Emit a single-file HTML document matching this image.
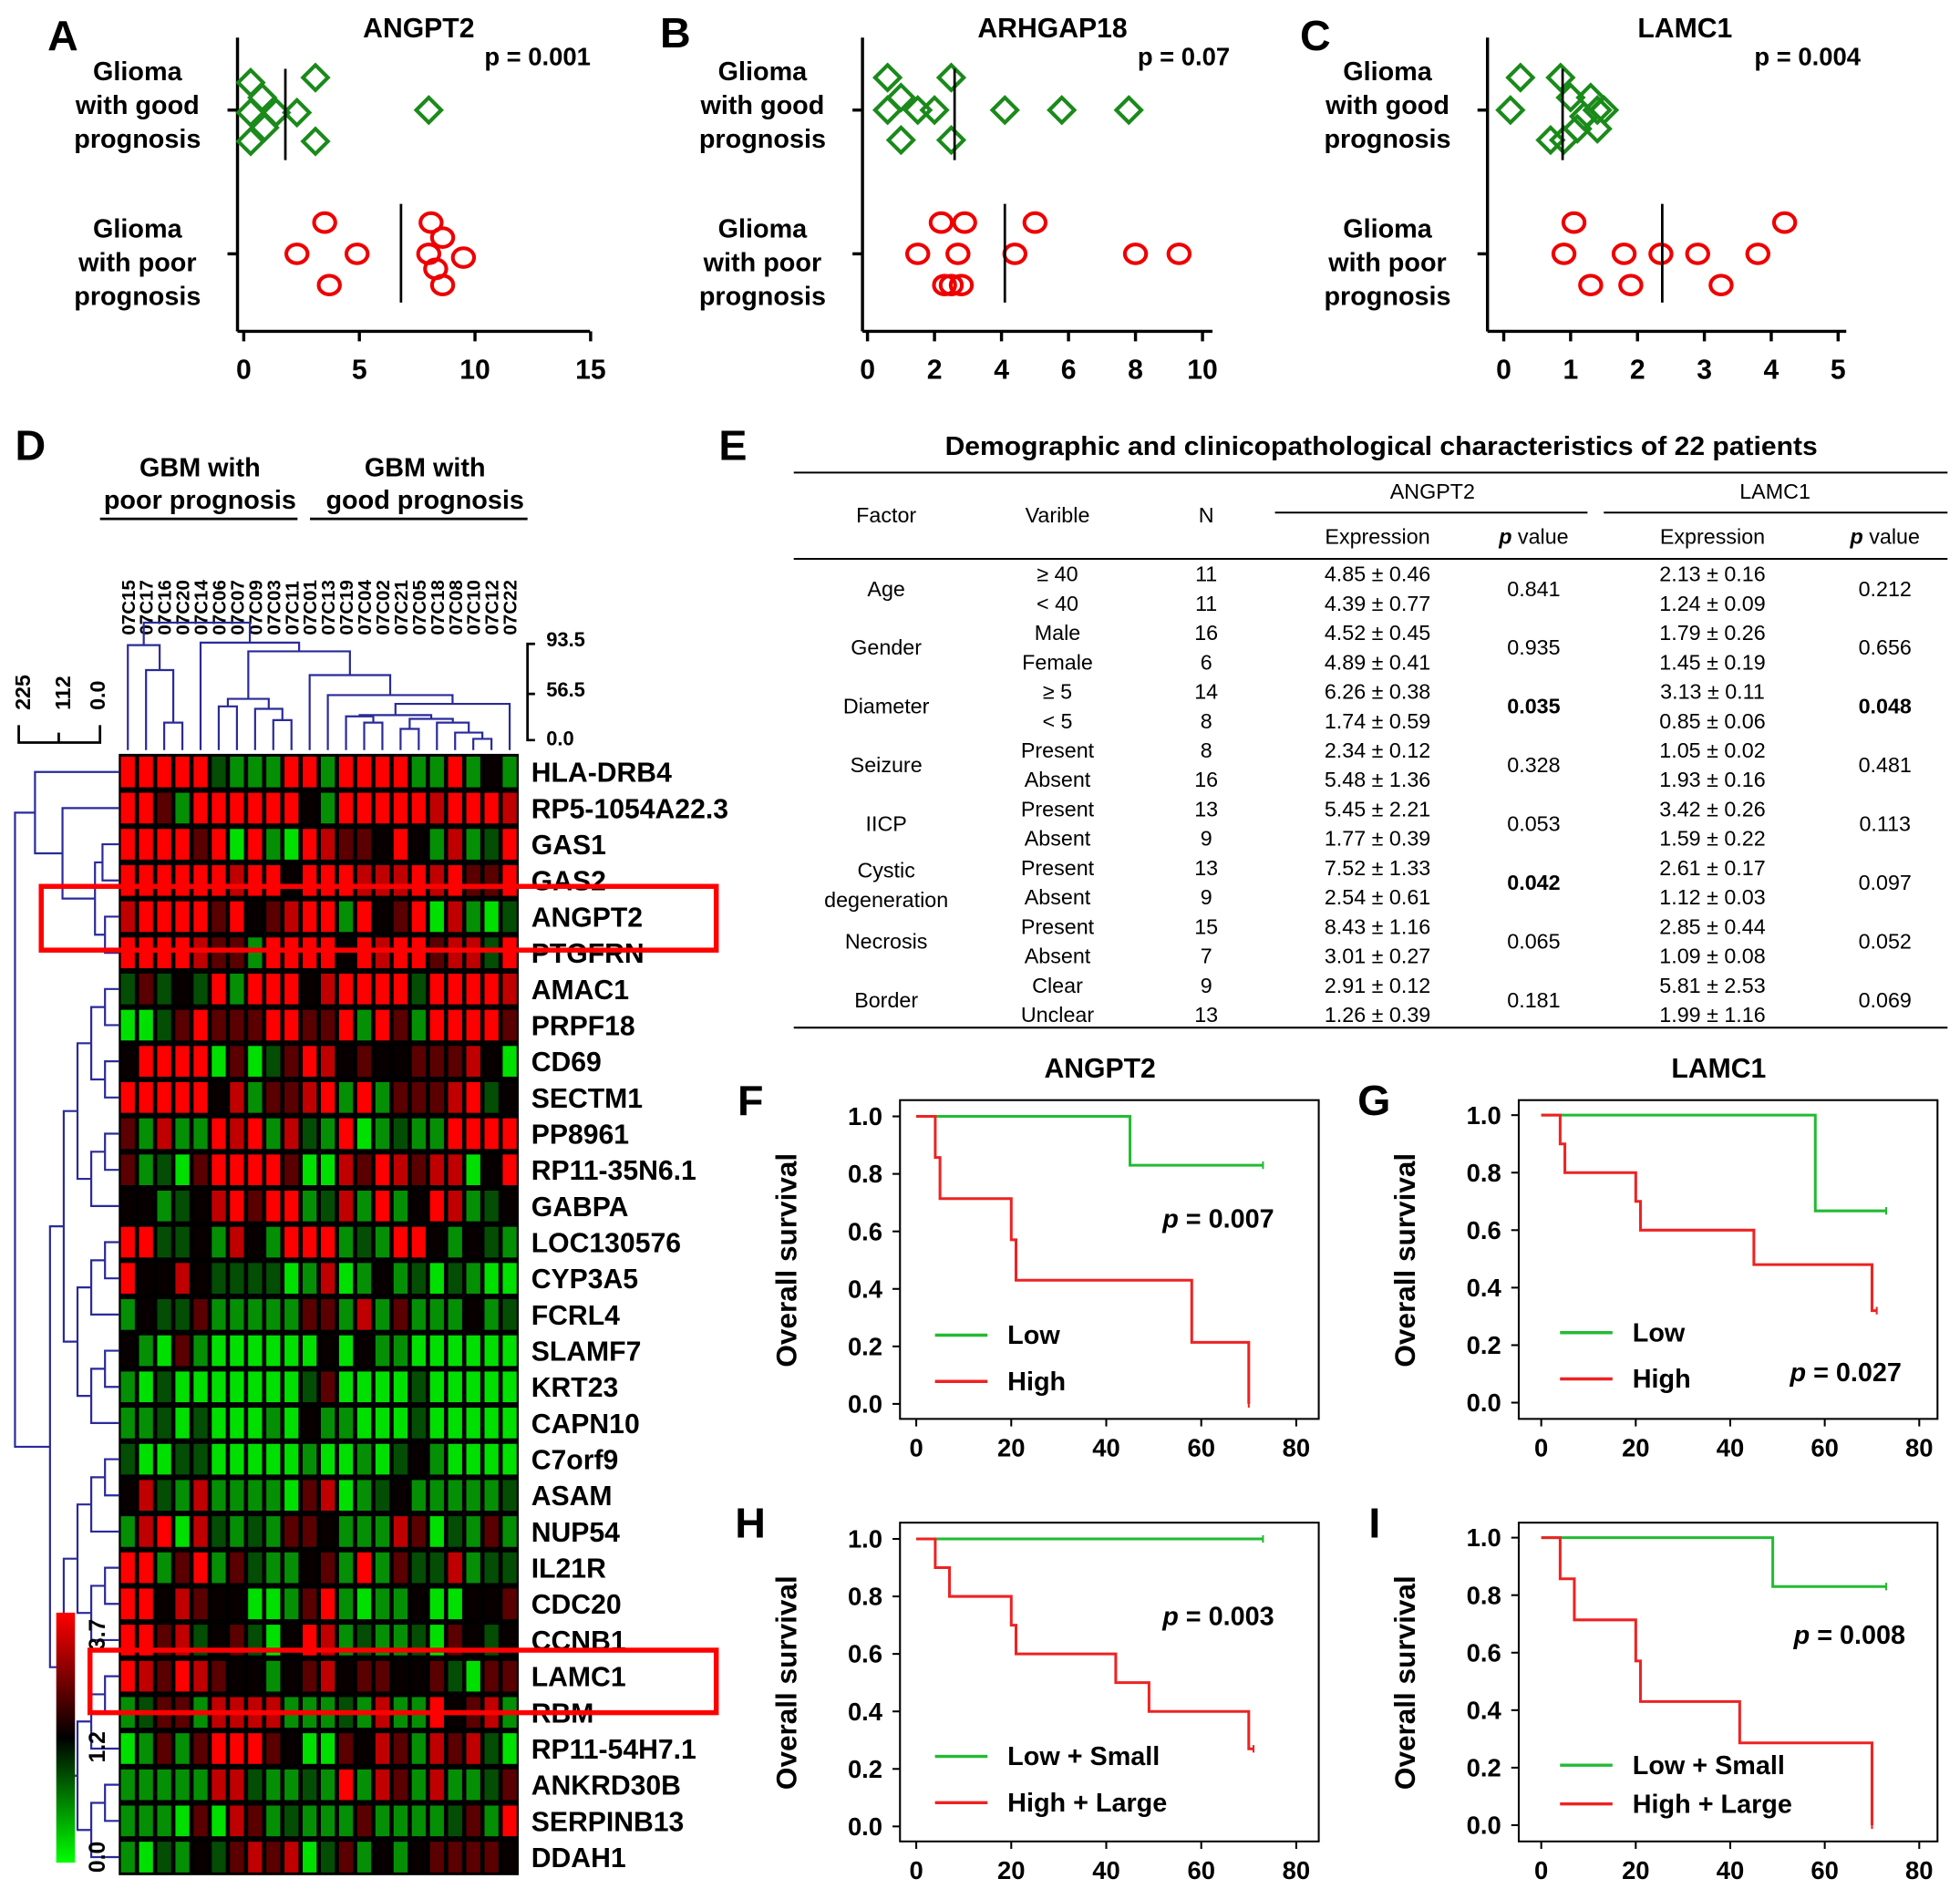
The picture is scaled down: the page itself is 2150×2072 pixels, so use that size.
<!DOCTYPE html>
<html><head><meta charset="utf-8"><style>
html,body{margin:0;padding:0;background:#fff}
svg{display:block}
text{font-family:"Liberation Sans",Arial,sans-serif}
.b{font-weight:bold}
.t{font-family:"Liberation Sans Narrow","Liberation Sans",sans-serif;font-size:17px}
</style></head><body>
<svg id="fig" width="2150" height="2072" viewBox="0 0 1568 1511" xmlns="http://www.w3.org/2000/svg">
<g id="root"></g>
</svg>
<script>
// ---------- Dot plot data ----------
const dotTitles=["ANGPT2","ARHGAP18","LAMC1"];
const dotP=["p = 0.001","p = 0.07","p = 0.004"];
const goodA=[3.1,0.3,0.8,0.3,1.4,2.3,8.0,0.9,0.3,3.1];
const goodAoff=[-26,-22,-10,2,2,2,0,14,25,25];
const poorA=[3.5,2.3,4.9,3.7,8.1,8.6,8.0,9.5,8.6,8.3];
const poorAoff=[-25,0,0,25,-25,-13,0,3,25,12];
const meanA=[1.8,6.8];
const goodB=[0.6,2.5,0.6,1.0,1.5,2.0,4.1,5.8,7.8,1.0,2.5];
const goodBoff=[-26,-26,0,-10,0,0,0,0,0,24,24];
const poorB=[2.2,2.9,5.0,1.5,2.7,4.4,8.0,9.3,2.5,2.8,2.3];
const poorBoff=[-25,-25,-25,0,0,0,0,0,25,25,25];
const meanB=[2.6,4.1];
const goodC=[0.25,0.85,0.1,1.0,1.3,1.4,1.2,1.5,1.1,0.9,1.4,0.7];
const goodCoff=[-26,-26,0,-10,-10,0,5,0,15,24,15,24];
const poorC=[1.05,4.2,0.9,1.8,2.35,2.9,3.8,1.3,1.9,3.25];
const poorCoff=[-25,-25,0,0,0,0,0,25,25,25];
const meanC=[0.88,2.37];
// ---------- Heatmap data ----------
const cols=["07C15","07C17","07C16","07C20","07C14","07C06","07C07","07C09","07C03","07C11","07C01","07C13","07C19","07C04","07C02","07C21","07C05","07C18","07C08","07C10","07C12","07C22"];
const genes=["HLA-DRB4","RP5-1054A22.3","GAS1","GAS2","ANGPT2","PTGFRN","AMAC1","PRPF18","CD69","SECTM1","PP8961","RP11-35N6.1","GABPA","LOC130576","CYP3A5","FCRL4","SLAMF7","KRT23","CAPN10","C7orf9","ASAM","NUP54","IL21R","CDC20","CCNB1","LAMC1","RBM","RP11-54H7.1","ANKRD30B","SERPINB13","DDAH1"];
const heat=["RRRRRgGGGRRGRRRRGGRGkG","RRdGRRRRRRkGRRRRRrRRRr","RRRRdRLRGLRrddkRkGrGgR","RRRRRRrRRkRRRrrrRrRddR","rRRRRdRkdrRRGRkdRLrGLg","RRRRrddGRRRRkRrRRdrrgR","gdgkgRGRRRkrRRRRgRRRRr","LLgdRdddRRddRGRdGRRRRd","kRRRRLdLgdRrkdkkdddrkL","RRRRRkrGddrRGRGdddrRgk","dGrGGRrRGrgGRLGgGGRRRR","dGgLdRRRRdLLrdRrdrrLkR","kkGgkrRdRRGgrGRGkRrGgk","RRggkGrkGRRRGgGRRkGkgG","RkkrkggggLGrLGkGgLgGLL","GkggdGGGGGddGrGdGGGkGg","kGLdGLLLLLLkLkGGLLLLLL","GLgLLLLLLLgdLLLLgLLLLL","GGgLgLLLGLkGGLLLgLLLLL","gLLggLLLLLGLLGLgkGLLLL","krgGrGGGGLdrLGgkGGGGGg","GrRLrgGgGddkGGGrdLgGdG","RRGdRGdgGGkdGRGdggrGgg","RRkrdkkLLGdRGLGGkLLkkd","RRdrgkdgLkRrGgGGgLdkgk","RrdRrdkkGkdrkddkkdgLdd","GgddGrrrrGGGgGrGGRkdrG","LGdGdRRRdkLLdkrdGrdrgL","GGGGGrrgGGgGRGrdGrGGgd","GGGLdLrdGgGGGdGGGGgdGR","GLgGkgdrdrLgdGkGkddddk"];
// ---------- Table data ----------
const factors=["Age","Gender","Diameter","Seizure","IICP","Cystic degeneration","Necrosis","Border"];
const variables=["≥ 40","< 40","Male","Female","≥ 5","< 5","Present","Absent","Present","Absent","Present","Absent","Present","Absent","Clear","Unclear"];
const nVals=["11","11","16","6","14","8","8","16","13","9","13","9","15","7","9","13"];
const angExpr=["4.85 ± 0.46","4.39 ± 0.77","4.52 ± 0.45","4.89 ± 0.41","6.26 ± 0.38","1.74 ± 0.59","2.34 ± 0.12","5.48 ± 1.36","5.45 ± 2.21","1.77 ± 0.39","7.52 ± 1.33","2.54 ± 0.61","8.43 ± 1.16","3.01 ± 0.27","2.91 ± 0.12","1.26 ± 0.39"];
const angP=["0.841","0.935","0.035","0.328","0.053","0.042","0.065","0.181"];
const lamExpr=["2.13 ± 0.16","1.24  ± 0.09","1.79 ± 0.26","1.45 ± 0.19","3.13 ± 0.11","0.85 ± 0.06","1.05 ± 0.02","1.93 ± 0.16","3.42 ± 0.26","1.59 ± 0.22","2.61 ± 0.17","1.12 ± 0.03","2.85 ± 0.44","1.09 ± 0.08","5.81 ± 2.53","1.99 ± 1.16"];
const lamP=["0.212","0.656","0.048","0.481","0.113","0.097","0.052","0.069"];
const boldP=[2,5];
const boldPL=[2];
// ---------- Survival data ----------
const fLowT=[0,45,73];const fLowS=[1,0.83,0.83];
const fHighT=[0,4,5,20,21,58,70,70];const fHighS=[1,0.857,0.714,0.571,0.43,0.214,0,0];
const gLowT=[0,58,73];const gLowS=[1,0.667,0.667];
const gHighT=[0,4,5,20,21,45,70,71];const gHighS=[1,0.9,0.8,0.7,0.6,0.48,0.32,0.32];
const hLowT=[0,73];const hLowS=[1,1];
const hHighT=[0,4,7,20,21,42,49,70,71];const hHighS=[1,0.9,0.8,0.7,0.6,0.5,0.4,0.27,0.27];
const iLowT=[0,49,73];const iLowS=[1,0.83,0.83];
const iHighT=[0,4,7,20,21,42,70,70];const iHighS=[1,0.857,0.714,0.571,0.43,0.286,0,0];
const survTicksX=[0,20,40,60,80];
const survTicksY=[0,0.2,0.4,0.6,0.8,1.0];

const NS="http://www.w3.org/2000/svg";
const root=document.getElementById('root');
function el(tag,attrs,parent,txt){const e=document.createElementNS(NS,tag);for(const k in attrs)e.setAttribute(k,attrs[k]);if(txt!==undefined)e.textContent=txt;(parent||root).appendChild(e);return e;}
function grp(name){const g=el('g',{});return g;}

// panel letters
[["A",38,40],["B",528,38],["C",1040,40],["D",12,368],["E",575,368],["F",590,892],["G",1086,892],["H",588,1230],["I",1095,1230]].forEach(([t,x,y])=>{
 const e=el('text',{x:x,y:y,'font-size':34,'font-weight':'bold'},root,t);
 
 
});

// ---------- dot plots ----------
const dotCfg=[
 {ax:190,x0:195,k:18.5,end:472,ticks:[0,5,10,15],title:335,px:430,good:goodA,go:goodAoff,poor:poorA,po:poorAoff,mean:meanA,lx:110},
 {ax:690,x0:694,k:26.8,end:970,ticks:[0,2,4,6,8,10],title:842,px:947,good:goodB,go:goodBoff,poor:poorB,po:poorBoff,mean:meanB,lx:610},
 {ax:1190,x0:1203,k:53.5,end:1477,ticks:[0,1,2,3,4,5],title:1348,px:1446,good:goodC,go:goodCoff,poor:poorC,po:poorCoff,mean:meanC,lx:1110}];
dotCfg.forEach((c,i)=>{
 const g=grp('dot-plot-'+dotTitles[i].toLowerCase());
 const X=v=>c.x0+v*c.k;
 const t=el('text',{x:c.title,y:30,'font-size':22,'font-weight':'bold','text-anchor':'middle'},g,dotTitles[i]);
 
 const p=el('text',{x:c.px,y:52,'font-size':20,'font-weight':'bold','text-anchor':'middle'},g,dotP[i]);
 
 el('line',{x1:c.ax,y1:30,x2:c.ax,y2:265,stroke:'#000','stroke-width':2.5},g);
 el('line',{x1:c.ax,y1:265,x2:c.end,y2:265,stroke:'#000','stroke-width':2.5},g);
 el('line',{x1:c.ax-8,y1:88,x2:c.ax,y2:88,stroke:'#000','stroke-width':2.5},g);
 el('line',{x1:c.ax-8,y1:203,x2:c.ax,y2:203,stroke:'#000','stroke-width':2.5},g);
 c.ticks.forEach(v=>{el('line',{x1:X(v),y1:265,x2:X(v),y2:273,stroke:'#000','stroke-width':2.5},g);
  const tl=el('text',{x:X(v),y:303,'font-size':22,'font-weight':'bold','text-anchor':'middle'},g,String(v));
  });
 [["Glioma","with good","prognosis",64],["Glioma","with poor","prognosis",190]].forEach(L=>{
  L.slice(0,3).forEach((s,j)=>{const e=el('text',{x:c.lx,y:L[3]+j*27,'font-size':21,'font-weight':'bold','text-anchor':'middle'},g,s);
   });});
 c.good.forEach((v,j)=>{const d=el('path',{d:`M${X(v)-10},${88+c.go[j]} l10,-10 l10,10 l-10,10 z`,fill:'none',stroke:'#1a8a1a','stroke-width':3},g);
  });
 c.poor.forEach((v,j)=>{const d=el('ellipse',{cx:X(v),cy:203+c.po[j],rx:8.5,ry:7.5,fill:'none',stroke:'#e00','stroke-width':3},g);
  });
 el('line',{x1:X(c.mean[0]),y1:55,x2:X(c.mean[0]),y2:128,stroke:'#000','stroke-width':2},g);
 el('line',{x1:X(c.mean[1]),y1:163,x2:X(c.mean[1]),y2:242,stroke:'#000','stroke-width':2},g);
});

// ---------- heatmap ----------
const hg=grp('heatmap');
const HX=95,HY=603,CW=320/22,RH=897/31;
const colorMap={R:'#ff0000',r:'#c00000',d:'#5a0000',k:'#080000',g:'#044d04',G:'#058f05',L:'#00e000'};
el('rect',{x:HX,y:HY,width:320,height:897,fill:'#000'},hg);
heat.forEach((row,r)=>{for(let c=0;c<cols.length;c++){
 const cell=el('rect',{x:HX+c*CW+1.7,y:HY+r*RH+2.2,width:CW-3.4,height:RH-4.4,fill:colorMap[row[c]]},hg);
 }});
genes.forEach((gname,r)=>{const t=el('text',{x:425,y:HY+(r+0.5)*RH+8,'font-size':22,'font-weight':'bold'},hg,gname);
 });
cols.forEach((cn,c)=>{const x=HX+(c+0.5)*CW+5.5;const t=el('text',{x:0,y:0,'font-size':15,'font-weight':'bold',transform:`translate(${x},508) rotate(-90)`},hg,cn);
 });
[["GBM with",160,381],["poor prognosis",160,407],["GBM with",340,381],["good prognosis",340,407]].forEach(([s,x,y])=>{
 const t=el('text',{x:x,y:y,'font-size':21,'font-weight':'bold','text-anchor':'middle'},hg,s);
 });
el('line',{x1:80,y1:415,x2:238,y2:415,stroke:'#000','stroke-width':2},hg);
el('line',{x1:248,y1:415,x2:422,y2:415,stroke:'#000','stroke-width':2},hg);
// top dendrogram
const dcol='#2a2a9a';
const cx=i=>HX+(i+0.5)*CW;
function dendroTop(n){ if(typeof n==='number') return {x:cx(n),y:600};
 const a=dendroTop(n[0]),b=dendroTop(n[1]);
 el('path',{d:`M${a.x},${a.y} V${n[2]} H${b.x} V${b.y}`,fill:'none',stroke:dcol,'stroke-width':1.6},hg);
 return {x:(a.x+b.x)/2,y:n[2]};}
const treeTop=[[0,[1,[2,3,578],536],516],[4,[[[5,6,565],[7,[8,9,576],567],559],[10,[11,[[[12,[13,14,578],573],[[15,16,583],[17,[18,[19,20,591],586],578],575],572],21,563],556],540],521],514],498];
dendroTop(treeTop);
el('path',{d:'M428,515 H422 V592 H428 M422,555 H428',fill:'none',stroke:'#000','stroke-width':2},hg);
[["93.5",517],["56.5",557],["0.0",596]].forEach(([s,y])=>el('text',{x:437,y:y,'font-size':16,'font-weight':'bold'},hg,s));
// left dendrogram
const ry=i=>HY+(i+0.5)*RH;
function dendroLeft(n){ if(typeof n==='number') return {x:95,y:ry(n)};
 const a=dendroLeft(n[0]),b=dendroLeft(n[1]);
 el('path',{d:`M${a.x},${a.y} H${n[2]} V${b.y} H${b.x}`,fill:'none',stroke:dcol,'stroke-width':1.6},hg);
 return {x:n[2],y:(a.y+b.y)/2};}
function build(lo,hi,d){ if(lo===hi) return lo; const m=Math.floor((lo+hi)/2); return [build(lo,m,d+1),build(m+1,hi,d+1),Math.min(92,40+d*11)];}
const treeLeft=[[0,[1,[[2,3,82],[4,5,84],76],50],28],build(6,30,0),12];
dendroLeft(treeLeft);
el('path',{d:'M15,580 V594 H80 V580 M47,594 V586',fill:'none',stroke:'#000','stroke-width':2},hg);
[["225",24],["112",56],["0.0",84]].forEach(([s,x])=>el('text',{x:0,y:0,'font-size':17,'font-weight':'bold',transform:`translate(${x},568) rotate(-90)`},hg,s));
// color bar
const defs=el('defs',{},root);
const lg=el('linearGradient',{id:'cb',x1:0,y1:0,x2:0,y2:1},defs);
el('stop',{offset:'0','stop-color':'#ff0000'},lg);el('stop',{offset:'0.5','stop-color':'#000'},lg);el('stop',{offset:'1','stop-color':'#00ff00'},lg);
const cb=el('rect',{x:45,y:1290,width:15,height:200,fill:'url(#cb)'},hg);

[["3.7",1320],["1.2",1410],["0.0",1498]].forEach(([s,y])=>el('text',{x:0,y:0,'font-size':18,'font-weight':'bold',transform:`translate(84,${y}) rotate(-90)`},hg,s));
// highlight boxes
const hb1=el('rect',{x:33,y:709,width:540,height:51,fill:'none',stroke:'#ff0000','stroke-width':4},hg);

const hb2=el('rect',{x:72,y:1320,width:501,height:50,fill:'none',stroke:'#ff0000','stroke-width':4},hg);


// ---------- table ----------
const tg=grp('clinical-table');
const tt=el('text',{x:1105,y:364,'font-size':21,'font-weight':'bold','text-anchor':'middle',textLength:698,lengthAdjust:'spacingAndGlyphs'},tg,'Demographic and clinicopathological characteristics of 22 patients');

el('line',{x1:635,y1:378,x2:1558,y2:378,stroke:'#000','stroke-width':1.5},tg);
el('line',{x1:635,y1:447,x2:1558,y2:447,stroke:'#000','stroke-width':1.5},tg);
el('line',{x1:635,y1:822,x2:1558,y2:822,stroke:'#000','stroke-width':1.5},tg);
el('line',{x1:1020,y1:410,x2:1270,y2:410,stroke:'#000','stroke-width':1.5},tg);
el('line',{x1:1283,y1:410,x2:1558,y2:410,stroke:'#000','stroke-width':1.5},tg);
function T(s,x,y,b,extra){const e=el('text',Object.assign({x:x,y:y,class:'t','text-anchor':'middle'},b?{'font-weight':'bold'}:{},extra||{}),tg,s);return e;}
T('Factor',709,418);T('Varible',846,418);T('N',965,418);T('ANGPT2',1146,399);T('LAMC1',1420,399);
T('Expression',1102,435);T('Expression',1370,435);
[1227,1508].forEach(x=>{const e=T('',x,435);const a=el('tspan',{'font-style':'italic','font-weight':'bold'},e,'p');el('tspan',{},e,' value');});
const rowY=i=>465+i*23.5;
factors.forEach((f,i)=>{const yc=(rowY(2*i)+rowY(2*i+1))/2;
 if(f==='Cystic degeneration'){T('Cystic',709,rowY(2*i)+2);T('degeneration',709,rowY(2*i+1)+2);}
 else T(f,709,yc);
 T(angP[i],1227,yc,boldP.includes(i));T(lamP[i],1508,yc,boldPL.includes(i));});
variables.forEach((v,i)=>{T(v,846,rowY(i));T(nVals[i],965,rowY(i));T(angExpr[i],1102,rowY(i));T(lamExpr[i],1370,rowY(i));});

// ---------- survival plots ----------
const sv=[
 {x:720,y:880,x0:733,sx:3.8,top:893,bot:1123,title:'ANGPT2',lowT:fLowT,lowS:fLowS,hiT:fHighT,hiS:fHighS,leg:['Low','High'],ly:[1068,1105],lx:748,p:'0.007',px:930,py:982,name:'f'},
 {x:1215,y:880,x0:1233,sx:3.78,top:892,bot:1122,title:'LAMC1',lowT:gLowT,lowS:gLowS,hiT:gHighT,hiS:gHighS,leg:['Low','High'],ly:[1066,1103],lx:1248,p:'0.027',px:1432,py:1105,name:'g'},
 {x:720,y:1218,x0:733,sx:3.8,top:1231,bot:1461,title:'',lowT:hLowT,lowS:hLowS,hiT:hHighT,hiS:hHighS,leg:['Low + Small','High + Large'],ly:[1405,1442],lx:748,p:'0.003',px:930,py:1300,name:'h'},
 {x:1215,y:1218,x0:1233,sx:3.78,top:1230,bot:1460,title:'',lowT:iLowT,lowS:iLowS,hiT:iHighT,hiS:iHighS,leg:['Low + Small','High + Large'],ly:[1412,1443],lx:1248,p:'0.008',px:1435,py:1315,name:'i'}];
sv.forEach(c=>{
 const g=grp('survival-plot-'+c.name);
 const X=t=>c.x0+t*c.sx, Y=s=>c.bot-s*(c.bot-c.top);
 el('rect',{x:c.x,y:c.y,width:335,height:255,fill:'none',stroke:'#000','stroke-width':1.5},g);
 if(c.title){const t=el('text',{x:c.x+160,y:c.y-18,'font-size':22,'font-weight':'bold','text-anchor':'middle'},g,c.title);}
 const yl=el('text',{x:0,y:0,'font-size':23,'font-weight':'bold','text-anchor':'middle',transform:`translate(${c.x-83},${c.y+128}) rotate(-90)`},g,'Overall survival');
 
 survTicksY.forEach(v=>{el('line',{x1:c.x-6,y1:Y(v),x2:c.x,y2:Y(v),stroke:'#000','stroke-width':1.5},g);
  const t=el('text',{x:c.x-14,y:Y(v)+7,'font-size':20,'font-weight':'bold','text-anchor':'end'},g,v.toFixed(1));});
 survTicksX.forEach(v=>{el('line',{x1:X(v),y1:c.y+255,x2:X(v),y2:c.y+261,stroke:'#000','stroke-width':1.5},g);
  const t=el('text',{x:X(v),y:c.y+285,'font-size':20,'font-weight':'bold','text-anchor':'middle'},g,String(v));});
 function step(T,S,col,nm){let d=`M${X(T[0])},${Y(S[0])}`;for(let i=1;i<T.length;i++){d+=` H${X(T[i])} V${Y(S[i])}`;}
  const p=el('path',{d:d,fill:'none',stroke:col,'stroke-width':2.2},g);
  const last=T.length-1;el('line',{x1:X(T[last]),y1:Y(S[last])-3,x2:X(T[last]),y2:Y(S[last])+3,stroke:col,'stroke-width':1.5},g);}
 step(c.lowT,c.lowS,'#22bb33','low-curve');step(c.hiT,c.hiS,'#ee2222','high-curve');
 [['#22bb33',0],['#ee2222',1]].forEach(([col,j])=>{el('line',{x1:c.lx,y1:c.ly[j],x2:c.lx+42,y2:c.ly[j],stroke:col,'stroke-width':2.5},g);
  const t=el('text',{x:c.lx+58,y:c.ly[j]+7,'font-size':21,'font-weight':'bold'},g,c.leg[j]);});
 const pt=el('text',{x:c.px,y:c.py,'font-size':21,'font-weight':'bold'},g);
 
 el('tspan',{'font-style':'italic'},pt,'p');el('tspan',{},pt,' = '+c.p);
});
</script>
</body></html>
